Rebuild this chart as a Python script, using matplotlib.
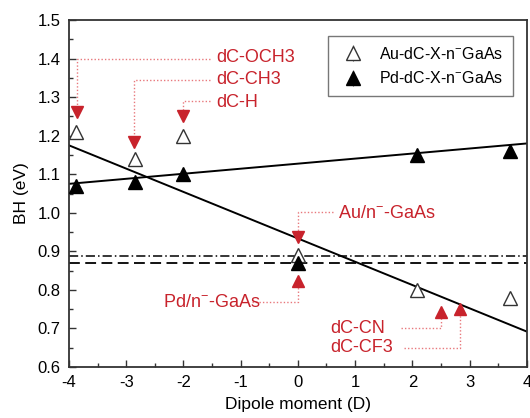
import matplotlib
matplotlib.use('Agg')
import matplotlib.pyplot as plt
import numpy as np

plt.rcParams['font.family'] = ['Liberation Sans', 'DejaVu Sans']
plt.rcParams['mathtext.fontset'] = 'custom'
plt.rcParams['mathtext.rm'] = 'Liberation Sans'

# dipole moment (D) and barrier height (eV)
dipole = np.array([-3.88, -2.85, -2.01, 0.0, 2.08, 3.70])
bh_au = np.array([1.21, 1.14, 1.20, 0.89, 0.80, 0.78])
bh_pd = np.array([1.07, 1.08, 1.10, 0.87, 1.15, 1.16])
bh_err = np.array([0.012, 0.012, 0.012, 0.012, 0.012, 0.012])

# linear fits (intercept, slope)
fit_au = (0.9335, -0.0604)
fit_pd = (1.1275, 0.0131)

# reference lines for bare contacts
ref_au = 0.888
ref_pd = 0.869

red = '#c8232c'
pink = '#e8787c'

fig = plt.figure(figsize=(5.3, 4.18), dpi=100)
ax = fig.add_axes([0.130, 0.122, 0.864, 0.830])

xx = np.array([-4, 4])
ax.plot(xx, fit_au[0] + fit_au[1] * xx, color='black', lw=1.4, zorder=2)
ax.plot(xx, fit_pd[0] + fit_pd[1] * xx, color='black', lw=1.4, zorder=2)
ax.axhline(ref_au, color='black', lw=1.1, ls=(0, (6, 2, 1, 2)), zorder=1)
ax.axhline(ref_pd, color='black', lw=1.3, ls=(0, (6, 3)), zorder=1)

ax.errorbar(dipole, bh_au, yerr=bh_err, fmt='^', ms=10, mfc='white',
            mec='#333333', mew=1.0, ecolor='#555555', elinewidth=0.8,
            label='Au-dC-X-n$^{-}$GaAs', zorder=4)
ax.errorbar(dipole, bh_pd, yerr=bh_err, fmt='^', ms=10, mfc='black',
            mec='black', ecolor='#555555', elinewidth=0.8,
            label='Pd-dC-X-n$^{-}$GaAs', zorder=5)

# annotations: text, text position, dotted path, arrow tip, direction
notes = [
    ('dC-OCH3', (-1.42, 1.404), [(-1.54, 1.40), (-3.85, 1.40), (-3.85, 1.25)], (-3.85, 1.245), 'v'),
    ('dC-CH3', (-1.42, 1.347), [(-1.54, 1.345), (-2.86, 1.345), (-2.86, 1.17)], (-2.86, 1.168), 'v'),
    ('dC-H', (-1.42, 1.287), [(-1.54, 1.29), (-2.01, 1.29), (-2.01, 1.24)], (-2.01, 1.235), 'v'),
    ('Au/n$^{-}$-GaAs', (0.70, 0.999), [(0.62, 1.003), (0.0, 1.003), (0.0, 0.93)], (0.0, 0.922), 'v'),
    ('Pd/n$^{-}$-GaAs', (-2.36, 0.768), [(-0.80, 0.768), (0.0, 0.768), (0.0, 0.83)], (0.0, 0.838), '^'),
    ('dC-CN', (0.56, 0.700), [(1.80, 0.700), (2.50, 0.700), (2.50, 0.75)], (2.50, 0.758), '^'),
    ('dC-CF3', (0.56, 0.650), [(1.85, 0.650), (2.83, 0.650), (2.83, 0.76)], (2.83, 0.766), '^'),
]
for text, tpos, path, tip, mk in notes:
    px, py = zip(*path)
    ax.plot(px, py, color=pink, lw=1.0, ls=(0, (1, 1.5)), zorder=3)
    off = 0.016 if mk == 'v' else -0.016
    ax.plot(tip[0], tip[1] + off, marker=mk, ms=8, color=red, mec=red, zorder=6)
    ax.text(tpos[0], tpos[1], text, color=red, fontsize=13, va='center', ha='left')

ax.set_xlim(-4, 4)
ax.set_ylim(0.6, 1.5)
ax.set_xticks(np.arange(-4, 5, 1))
ax.set_xticks(np.arange(-4, 4.1, 0.5), minor=True)
ax.set_yticks(np.arange(0.6, 1.51, 0.1))
ax.set_yticks(np.arange(0.6, 1.51, 0.05), minor=True)
ax.set_xticklabels([str(v) for v in range(-4, 5)])
ax.set_yticklabels(['%.1f' % v for v in np.arange(0.6, 1.51, 0.1)])
ax.tick_params(direction='in', labelsize=12, width=1.0, length=5, color='#333333', pad=6)
ax.tick_params(which='minor', direction='in', length=3, width=1.0, color='#333333')
ax.tick_params(top=False, right=False)
for s in ax.spines.values():
    s.set_linewidth(1.3)
    s.set_color('#333333')

ax.set_xlabel('Dipole moment (D)', fontsize=12.5, labelpad=5)
ax.set_ylabel('BH (eV)', fontsize=12.5, labelpad=6)

leg = ax.legend(loc='upper right', bbox_to_anchor=(0.969, 0.954), fontsize=11.5,
                frameon=True, fancybox=False, edgecolor='#555555', borderaxespad=0,
                handletextpad=0.6, borderpad=0.6, labelspacing=0.55)
leg.get_frame().set_linewidth(1.0)

fig.savefig('out.png', dpi=100)
